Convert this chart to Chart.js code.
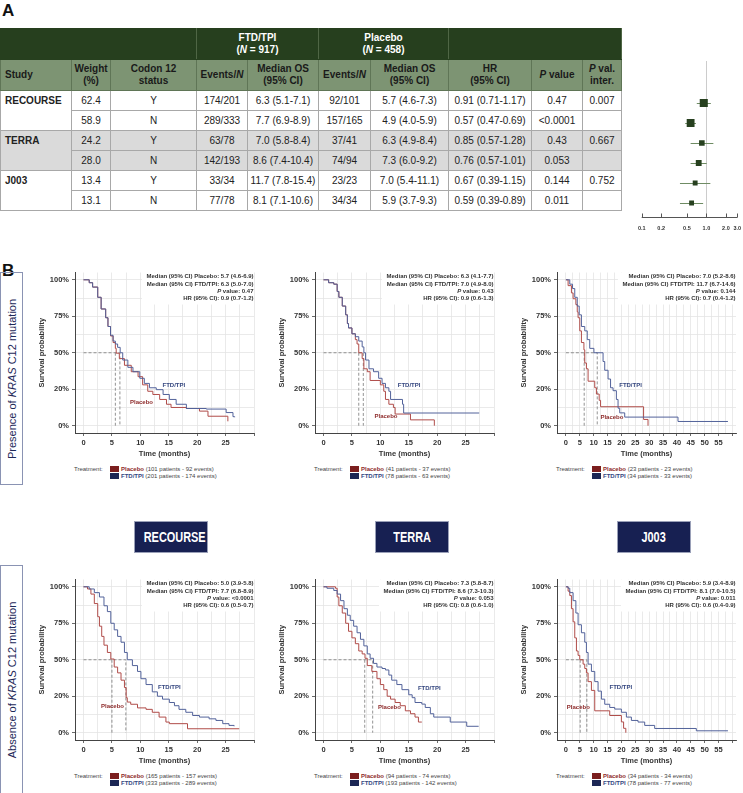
<!DOCTYPE html>
<html>
<head>
<meta charset="utf-8">
<script src="https://cdn.jsdelivr.net/npm/chart.js@4.4.1/dist/chart.umd.min.js"></script>
<style>
  body { margin:0; width:743px; height:793px; position:relative; overflow:hidden; background:#fff;
         font-family:"Liberation Sans", Arial, sans-serif; color:#222; }
  .abs { position:absolute; }
  .letter { font-weight:bold; font-size:17px; line-height:17px; color:#111; }
  #tbl { position:absolute; left:0; top:28px; border-collapse:collapse; table-layout:fixed; font-size:10px; }
  #tbl td { border:1px solid #a8a8a8; text-align:center; padding:0; height:19px; color:#222; white-space:nowrap; }
  #tbl tr.h1 td { background:#263f1e; color:#fff; font-weight:bold; height:30px; border-color:#263f1e; border-right-color:#4f6645; line-height:12px; }
  #tbl tr.h2 td { background:#7d9473; color:#1a1a1a; font-weight:bold; height:30px; border-color:#5f7556; line-height:12px; }
  #tbl td.study { text-align:left; font-weight:bold; vertical-align:top; padding:4px 0 0 4px; }
  #tbl tr.grey td { background:#dadada; }
  .side { border:1px solid #8a93b3; box-sizing:border-box; }
  .side span { position:absolute; left:50%; top:50%; transform:translate(-50%,-50%) rotate(-90deg);
               white-space:nowrap; font-size:11px; color:#1d2858; }
  .studybox { background:#172052; border:1px solid #9aa0b8; box-sizing:border-box; color:#fff; font-weight:bold;
              font-size:14px; text-align:center; line-height:30px; }
  .studybox span { display:inline-block; transform:scaleX(0.78); }
  .leg { font-size:6px; color:#444; white-space:nowrap; line-height:7px; }
  .sw { display:inline-block; width:9px; height:6px; vertical-align:-1px; margin-right:2px; }
</style>
</head>
<body>
<div class="abs letter" style="left:2px;top:2px">A</div>
<table id="tbl"></table>
<canvas id="forest" class="abs" style="left:630px;top:50px"></canvas>

<div class="abs letter" style="left:2px;top:262px">B</div>
<div class="abs side" style="left:0;top:272px;width:23px;height:213px"><span>Presence of <i>KRAS</i> C12 mutation</span></div>
<div class="abs side" style="left:0;top:565px;width:23px;height:230px"><span>Absence of <i>KRAS</i> C12 mutation</span></div>

<script>
// ---------- Part A: table + forest plot ----------
const studies = ['RECOURSE', 'TERRA', 'J003'];
const weights = [62.4, 58.9, 24.2, 28.0, 13.4, 13.1];
const codon12 = ['Y', 'N', 'Y', 'N', 'Y', 'N'];
const ftdEvents = ['174/201', '289/333', '63/78', '142/193', '33/34', '77/78'];
const ftdMedianOS = ['6.3 (5.1-7.1)', '7.7 (6.9-8.9)', '7.0 (5.8-8.4)', '8.6 (7.4-10.4)', '11.7 (7.8-15.4)', '8.1 (7.1-10.6)'];
const pboEvents = ['92/101', '157/165', '37/41', '74/94', '23/23', '34/34'];
const pboMedianOS = ['5.7 (4.6-7.3)', '4.9 (4.0-5.9)', '6.3 (4.9-8.4)', '7.3 (6.0-9.2)', '7.0 (5.4-11.1)', '5.9 (3.7-9.3)'];
const hr = [0.91, 0.57, 0.85, 0.76, 0.67, 0.59];
const hrLow = [0.71, 0.47, 0.57, 0.57, 0.39, 0.39];
const hrHigh = [1.17, 0.69, 1.28, 1.01, 1.15, 0.89];
const pValues = ['0.47', '<0.0001', '0.43', '0.053', '0.144', '0.011'];
const pInteraction = ['0.007', '0.667', '0.752'];
const forestTicks = [0.1, 0.2, 0.5, 1, 2, 3];
const forestTickLabels = ['0.1', '0.2', '0.5', '1.0', '2.0', '3.0'];

// ---------- Part B: Kaplan-Meier curves (time in months, survival) ----------
const recourseC12PboT = [0, 1.0, 1.6, 2.5, 3.1, 3.9, 4.3, 4.75, 5.2, 5.6, 5.75, 6.3, 7.2, 8.4, 9.6, 10.4, 11.3, 12.2, 13.4, 14.6, 15.4, 18.1, 20.4, 21.9, 25.4];
const recourseC12PboS = [1, 0.98, 0.95, 0.88, 0.80, 0.74, 0.68, 0.615, 0.57, 0.53, 0.497, 0.46, 0.414, 0.37, 0.336, 0.28, 0.236, 0.214, 0.18, 0.147, 0.125, 0.118, 0.10, 0.065, 0.03];
const recourseC12FtdT = [0, 1.0, 1.6, 2.5, 3.1, 3.9, 4.3, 4.75, 5.2, 5.6, 6.0, 6.45, 6.9, 7.8, 8.7, 9.9, 10.7, 11.6, 12.8, 14.0, 15.1, 16.3, 18.1, 21.6, 25.1, 26.3, 26.6];
const recourseC12FtdS = [1, 0.98, 0.95, 0.88, 0.80, 0.74, 0.68, 0.62, 0.58, 0.56, 0.537, 0.50, 0.45, 0.40, 0.37, 0.325, 0.29, 0.26, 0.247, 0.214, 0.18, 0.147, 0.118, 0.114, 0.09, 0.062, 0.058];

const terraC12PboT = [0, 0.9, 1.8, 2.4, 2.7, 3.3, 3.9, 4.2, 4.4, 5.0, 5.6, 5.9, 6.2, 6.8, 7.1, 7.7, 8.2, 10.0, 10.6, 10.9, 11.5, 12.3, 12.6, 15.3, 19.5];
const terraC12PboS = [1, 0.98, 0.97, 0.92, 0.88, 0.82, 0.76, 0.70, 0.67, 0.63, 0.59, 0.56, 0.50, 0.46, 0.39, 0.37, 0.31, 0.28, 0.236, 0.18, 0.147, 0.125, 0.08, 0.04, 0];
const terraC12FtdT = [0, 0.9, 1.8, 2.4, 2.7, 3.3, 3.9, 4.2, 4.4, 5.0, 5.6, 6.2, 6.8, 7.1, 7.4, 8.0, 8.8, 9.7, 10.3, 10.9, 11.5, 11.8, 13.9, 14.1, 27.4];
const terraC12FtdS = [1, 0.98, 0.97, 0.92, 0.88, 0.82, 0.76, 0.70, 0.67, 0.63, 0.61, 0.58, 0.54, 0.50, 0.45, 0.39, 0.37, 0.325, 0.29, 0.26, 0.236, 0.18, 0.147, 0.087, 0.087];

const j003C12PboT = [0, 0.8, 2.0, 2.6, 3.6, 4.1, 4.4, 5.0, 5.6, 6.5, 6.8, 7.4, 8.0, 10.4, 11.0, 12.0, 12.5, 28.0, 29.6];
const j003C12PboS = [1, 0.96, 0.91, 0.87, 0.83, 0.78, 0.74, 0.65, 0.57, 0.52, 0.43, 0.39, 0.305, 0.26, 0.217, 0.174, 0.13, 0.043, 0];
const j003C12FtdT = [0, 1.4, 2.4, 3.2, 4.1, 4.8, 5.6, 6.8, 7.7, 8.6, 10.1, 13.4, 14.0, 15.2, 16.1, 17.0, 18.2, 18.8, 19.4, 21.2, 40.4, 58.4];
const j003C12FtdS = [1, 0.97, 0.94, 0.88, 0.82, 0.76, 0.68, 0.65, 0.59, 0.53, 0.50, 0.44, 0.38, 0.32, 0.26, 0.24, 0.18, 0.12, 0.088, 0.059, 0.029, 0.029];

const recourseNoPboT = [0, 0.7, 1.3, 1.9, 2.5, 2.8, 3.2, 3.6, 4.2, 4.8, 5.4, 6.0, 6.6, 7.2, 7.5, 7.7, 8.3, 9.5, 11.0, 12.1, 13.3, 14.5, 15.1, 18.3, 27.4];
const recourseNoPboS = [1, 0.985, 0.95, 0.885, 0.795, 0.73, 0.66, 0.60, 0.55, 0.505, 0.45, 0.41, 0.36, 0.31, 0.24, 0.21, 0.195, 0.17, 0.16, 0.14, 0.107, 0.073, 0.062, 0.027, 0.027];
const recourseNoFtdT = [0, 1.0, 1.9, 2.8, 3.6, 4.2, 4.8, 5.4, 6.0, 6.6, 7.2, 7.7, 8.6, 9.5, 10.1, 11.0, 12.1, 13.0, 13.9, 15.1, 16.0, 16.8, 18.0, 19.2, 20.4, 22.1, 23.3, 24.5, 25.6, 26.5];
const recourseNoFtdS = [1, 0.985, 0.96, 0.93, 0.87, 0.83, 0.75, 0.705, 0.66, 0.62, 0.55, 0.50, 0.46, 0.42, 0.37, 0.33, 0.28, 0.25, 0.23, 0.207, 0.185, 0.16, 0.14, 0.118, 0.107, 0.095, 0.084, 0.062, 0.05, 0.044];

const terraNoPboT = [0, 2.1, 2.4, 2.7, 3.3, 3.9, 4.4, 5.0, 5.6, 6.2, 6.8, 7.3, 7.7, 8.5, 9.4, 10.0, 10.6, 11.2, 11.8, 12.6, 13.5, 14.4, 15.3, 16.1, 16.7, 17.3];
const terraNoPboS = [1, 0.99, 0.93, 0.87, 0.82, 0.75, 0.695, 0.65, 0.61, 0.56, 0.54, 0.51, 0.46, 0.42, 0.37, 0.33, 0.295, 0.25, 0.23, 0.207, 0.185, 0.15, 0.13, 0.107, 0.073, 0.073];
const terraNoFtdT = [0, 0.6, 1.8, 2.4, 3.0, 3.6, 4.2, 4.7, 5.3, 5.9, 6.5, 7.1, 7.7, 8.2, 8.8, 9.4, 10.3, 10.9, 11.5, 12.0, 12.9, 13.8, 15.0, 15.6, 16.1, 17.3, 17.9, 18.8, 19.4, 22.3, 25.2, 27.3];
const terraNoFtdS = [1, 0.99, 0.975, 0.95, 0.905, 0.85, 0.805, 0.77, 0.73, 0.685, 0.64, 0.595, 0.54, 0.51, 0.475, 0.45, 0.44, 0.43, 0.395, 0.36, 0.33, 0.295, 0.26, 0.24, 0.207, 0.196, 0.173, 0.13, 0.107, 0.073, 0.044, 0.044];

const j003NoPboT = [0, 0.8, 1.4, 2.0, 2.6, 3.2, 3.8, 4.4, 5.0, 6.2, 6.8, 7.4, 8.0, 9.2, 10.4, 15.8, 20.0, 20.8, 21.6];
const j003NoPboS = [1, 0.97, 0.94, 0.85, 0.76, 0.65, 0.56, 0.53, 0.50, 0.47, 0.44, 0.41, 0.35, 0.29, 0.15, 0.118, 0.074, 0.03, 0];
const j003NoFtdT = [0, 0.8, 1.4, 2.6, 3.6, 4.4, 5.6, 6.8, 7.4, 8.0, 9.2, 10.4, 11.6, 12.8, 14.0, 15.8, 17.6, 20.0, 21.8, 23.6, 26.0, 28.4, 32.0, 47.0, 58.4];
const j003NoFtdS = [1, 0.99, 0.96, 0.905, 0.82, 0.74, 0.685, 0.62, 0.55, 0.47, 0.42, 0.35, 0.285, 0.23, 0.195, 0.173, 0.162, 0.14, 0.107, 0.084, 0.073, 0.05, 0.029, 0.013, 0.013];

// median survival drawn as dashed guides [placebo, FTD/TPI]
const medians = [[5.6, 6.4], [6.2, 7.0], [6.6, 11.3], [5.0, 7.45], [7.25, 8.65], [5.15, 7.55]];
const statLines = [
  ['Median (95% CI) Placebo: 5.7 (4.6-6.9)', 'Median (95% CI) FTD/TPI: 6.3 (5.0-7.0)', 'P value: 0.47', 'HR (95% CI): 0.9 (0.7-1.2)'],
  ['Median (95% CI) Placebo: 6.3 (4.1-7.7)', 'Median (95% CI) FTD/TPI: 7.0 (4.9-8.0)', 'P value: 0.43', 'HR (95% CI): 0.9 (0.6-1.3)'],
  ['Median (95% CI) Placebo: 7.0 (5.2-8.6)', 'Median (95% CI) FTD/TPI: 11.7 (6.7-14.6)', 'P value: 0.144', 'HR (95% CI): 0.7 (0.4-1.2)'],
  ['Median (95% CI) Placebo: 5.0 (3.9-5.8)', 'Median (95% CI) FTD/TPI: 7.7 (6.8-8.9)', 'P value: <0.0001', 'HR (95% CI): 0.6 (0.5-0.7)'],
  ['Median (95% CI) Placebo: 7.3 (5.8-8.7)', 'Median (95% CI) FTD/TPI: 8.6 (7.3-10.3)', 'P value: 0.053', 'HR (95% CI): 0.8 (0.6-1.0)'],
  ['Median (95% CI) Placebo: 5.9 (3.4-8.9)', 'Median (95% CI) FTD/TPI: 8.1 (7.0-10.5)', 'P value: 0.011', 'HR (95% CI): 0.6 (0.4-0.9)']
];
const legendPbo = ['(101 patients - 92 events)', '(41 patients - 37 events)', '(23 patients - 23 events)',
                   '(165 patients - 157 events)', '(94 patients - 74 events)', '(34 patients - 34 events)'];
const legendFtd = ['(201 patients - 174 events)', '(78 patients - 63 events)', '(34 patients - 33 events)',
                   '(333 patients - 289 events)', '(193 patients - 142 events)', '(78 patients - 77 events)'];
const yTickValues = [0, 0.25, 0.5, 0.75, 1];
const yTickLabels = ['0%', '20%', '50%', '75%', '100%'];

const FONT = '"Liberation Sans", Arial, sans-serif';
const PBO_LINE = '#b04c49', FTD_LINE = '#52629a', PBO_TXT = '#8e2b2b', FTD_TXT = '#34467f';
const PBO_BOX = '#7b1e1e', FTD_BOX = '#1c2755';
Chart.defaults.font.family = FONT;
Chart.defaults.animation = false;

// ---- table ----
const colW = [71, 39, 86, 51, 71, 52, 78, 83, 51, 39];
let html = '<colgroup>' + colW.map(w => '<col style="width:' + w + 'px">').join('') + '</colgroup>';
html += '<tr class="h1"><td colspan="3"></td><td colspan="2">FTD/TPI<br>(<i>N</i> = 917)</td>' +
        '<td colspan="2">Placebo<br>(<i>N</i> = 458)</td><td colspan="3"></td></tr>';
html += '<tr class="h2"><td style="text-align:left;padding-left:4px">Study</td><td>Weight<br>(%)</td><td>Codon 12<br>status</td>' +
        '<td>Events/<i>N</i></td><td>Median OS<br>(95% CI)</td><td>Events/<i>N</i></td><td>Median OS<br>(95% CI)</td>' +
        '<td>HR<br>(95% CI)</td><td><i>P</i> value</td><td><i>P</i> val.<br>inter.</td></tr>';
for (let i = 0; i < 6; i++) {
  const s = Math.floor(i / 2);
  html += '<tr' + (s === 1 ? ' class="grey"' : '') + '>';
  if (i % 2 === 0) html += '<td class="study" rowspan="2">' + studies[s] + '</td>';
  html += '<td>' + weights[i].toFixed(1) + '</td><td>' + codon12[i] + '</td><td>' + ftdEvents[i] + '</td><td>' +
          ftdMedianOS[i] + '</td><td>' + pboEvents[i] + '</td><td>' + pboMedianOS[i] + '</td><td>' +
          hr[i].toFixed(2) + ' (' + hrLow[i].toFixed(2) + '-' + hrHigh[i].toFixed(2) + ')</td><td>' +
          pValues[i] + '</td><td>' + (i % 2 === 0 ? pInteraction[s] : '') + '</td></tr>';
}
document.getElementById('tbl').innerHTML = html;

// ---- forest plot ----
const forestDeco = {
  id: 'forestDeco',
  beforeDatasetsDraw(chart) {
    const {ctx, chartArea: a, scales: {x, y}} = chart;
    ctx.save();
    ctx.lineWidth = 1;
    const x1 = Math.round(x.getPixelForValue(1)) + 0.5;
    ctx.strokeStyle = '#cccccc';
    ctx.beginPath(); ctx.moveTo(x1, a.top); ctx.lineTo(x1, a.bottom); ctx.stroke();
    ctx.strokeStyle = '#6f8c64';
    hr.forEach((v, i) => {
      const yy = Math.round(y.getPixelForValue(i + 2.1)) + 0.5;
      ctx.beginPath(); ctx.moveTo(x.getPixelForValue(hrLow[i]), yy); ctx.lineTo(x.getPixelForValue(hrHigh[i]), yy); ctx.stroke();
    });
    const yb = Math.round(a.bottom) + 0.5;
    ctx.strokeStyle = '#555';
    ctx.beginPath(); ctx.moveTo(a.left, yb); ctx.lineTo(a.right, yb);
    forestTicks.forEach(t => { const px = Math.round(x.getPixelForValue(t)) + 0.5; ctx.moveTo(px, yb); ctx.lineTo(px, yb - 4); });
    ctx.stroke();
    ctx.fillStyle = '#333';
    ctx.font = 'bold 5.5px ' + FONT;
    ctx.textAlign = 'center'; ctx.textBaseline = 'middle';
    forestTicks.forEach((t, i) => ctx.fillText(forestTickLabels[i], x.getPixelForValue(t), yb + 11));
    ctx.restore();
  }
};
const fc = document.getElementById('forest');
fc.width = 113; fc.height = 190;
new Chart(fc, {
  type: 'scatter',
  data: { datasets: [{
    data: hr.map((v, i) => ({x: v, y: i + 2.1})),
    pointStyle: 'rect',
    pointRadius: weights.map(w => (4 + w * 0.065) / 1.414),
    backgroundColor: '#27401f', borderWidth: 0
  }]},
  options: {
    responsive: false,
    layout: { padding: {left: 11.7, right: 5.3, top: 11, bottom: 23} },
    plugins: { legend: {display: false}, tooltip: {enabled: false} },
    scales: {
      x: { type: 'logarithmic', min: 0.1, max: 3, display: false },
      y: { min: 0, max: 7.8, reverse: true, display: false }
    }
  },
  plugins: [forestDeco]
});

// ---- KM panels ----
const kmText = {
  id: 'kmText',
  beforeDatasetsDraw(chart, args, o) {
    const {ctx, chartArea: a} = chart;
    ctx.save();
    ctx.font = 'bold 6px ' + FONT;
    const w = Math.max(...o.stats.map(s => ctx.measureText(s).width)) + 5;
    ctx.fillStyle = '#fff';
    ctx.fillRect(a.right - w, a.top, w, 32);
    ctx.restore();
  },
  afterDatasetsDraw(chart, args, o) {
    const {ctx, chartArea: a, scales: {x, y}} = chart;
    ctx.save();
    ctx.textBaseline = 'middle';
    const f = 'bold 6px ' + FONT, fi = 'italic bold 6px ' + FONT;
    ctx.fillStyle = '#333';
    ctx.textAlign = 'right';
    o.stats.forEach((s, i) => {
      const yy = a.top + 4 + i * 7.4, xr = a.right - 0.5;
      ctx.font = f;
      if (s.startsWith('P ')) {
        const rest = s.slice(1);
        ctx.fillText(rest, xr, yy);
        const rw = ctx.measureText(rest).width;
        ctx.font = fi;
        ctx.fillText('P', xr - rw, yy);
      } else {
        ctx.fillText(s, xr, yy);
      }
    });
    ctx.textAlign = 'center';
    ctx.font = f;
    ctx.fillStyle = FTD_TXT;
    ctx.fillText('FTD/TPI', x.getPixelForValue(o.ftdLab[0]), y.getPixelForValue(o.ftdLab[1]));
    ctx.fillStyle = PBO_TXT;
    ctx.fillText('Placebo', x.getPixelForValue(o.pboLab[0]), y.getPixelForValue(o.pboLab[1]));
    ctx.restore();
  }
};

function pts(t, s) { return t.map((v, i) => ({x: v, y: s[i]})); }

const plotLeft = [75, 315, 557], plotTop = [268, 575], PW = 179, PH = 165;
const curves = [
  [recourseC12PboT, recourseC12PboS, recourseC12FtdT, recourseC12FtdS],
  [terraC12PboT, terraC12PboS, terraC12FtdT, terraC12FtdS],
  [j003C12PboT, j003C12PboS, j003C12FtdT, j003C12FtdS],
  [recourseNoPboT, recourseNoPboS, recourseNoFtdT, recourseNoFtdS],
  [terraNoPboT, terraNoPboS, terraNoFtdT, terraNoFtdS],
  [j003NoPboT, j003NoPboS, j003NoFtdT, j003NoFtdS]
];
// curve label anchors (months, survival)
const labelAt = [
  {ftd: [15.9, 0.278], pbo: [10.2, 0.158]}, {ftd: [15.05, 0.276], pbo: [11.0, 0.062]}, {ftd: [23.3, 0.276], pbo: [16.6, 0.058]},
  {ftd: [15.1, 0.311], pbo: [5.1, 0.178]}, {ftd: [18.6, 0.307], pbo: [11.6, 0.173]}, {ftd: [19.8, 0.311], pbo: [4.5, 0.173]}
];

curves.forEach((c, k) => {
  const col = k % 3, row = Math.floor(k / 3);
  const wide = col === 2;
  const PL = plotLeft[col], PT = plotTop[row];
  const cv = document.createElement('canvas');
  cv.className = 'abs';
  cv.style.left = (PL - 45) + 'px'; cv.style.top = (PT - 3) + 'px';
  cv.width = 228; cv.height = 198;
  document.body.appendChild(cv);

  const xMin = wide ? -3.2 : -1.5, xMax = wide ? 61.3 : 30;
  const lastTick = wide ? 60 : 30, lastLabel = wide ? 55 : 25;
  const xTicks = [];
  for (let v = 0; v <= lastTick; v += 2.5) xTicks.push(v);
  const m = medians[k];
  const mHi = Math.max(m[0], m[1]), mLo = Math.min(m[0], m[1]);

  new Chart(cv, {
    type: 'line',
    data: { datasets: [
      { data: pts(c[2], c[3]), stepped: 'before', borderColor: FTD_LINE, borderWidth: 1, pointRadius: 0 },
      { data: pts(c[0], c[1]), stepped: 'before', borderColor: PBO_LINE, borderWidth: 1, pointRadius: 0 },
      { data: [{x: 0, y: 0.5}, {x: mHi, y: 0.5}, {x: mHi, y: 0}], borderColor: '#777', borderWidth: 0.8, borderDash: [3, 2], pointRadius: 0 },
      { data: [{x: mLo, y: 0.5}, {x: mLo, y: 0}], borderColor: '#777', borderWidth: 0.8, borderDash: [3, 2], pointRadius: 0 }
    ]},
    options: {
      responsive: false,
      layout: { padding: {left: 0, top: 3, right: 4, bottom: 0} },
      plugins: {
        legend: {display: false}, tooltip: {enabled: false},
        kmText: { stats: statLines[k], ftdLab: labelAt[k].ftd, pboLab: labelAt[k].pbo }
      },
      scales: {
        x: {
          type: 'linear', min: xMin, max: xMax,
          afterBuildTicks: s => { s.ticks = xTicks.map(v => ({value: v})); },
          afterFit: s => { s.height = 30; },
          ticks: { autoSkip: false, maxRotation: 0, padding: 2, color: '#333', font: {size: 7.5, weight: 'bold'},
                   callback: v => (v % 5 === 0 && v <= lastLabel) ? String(v) : '' },
          grid: { color: '#e4e4e4', lineWidth: 0.8, tickLength: 3,
                  tickColor: ctx => (ctx.tick && ctx.tick.value % 5 === 0) ? '#444' : 'rgba(0,0,0,0)' },
          border: { color: '#444', width: 1 },
          title: { display: true, text: 'Time (months)', color: '#333', font: {size: 7.5, weight: 'bold'}, padding: {top: 0, bottom: 5} }
        },
        y: {
          type: 'linear', min: -0.05, max: 1.05,
          afterBuildTicks: s => { s.ticks = [0, 0.125, 0.25, 0.375, 0.5, 0.625, 0.75, 0.875, 1].map(v => ({value: v})); },
          afterFit: s => { s.width = 45; },
          ticks: { padding: 3, color: '#333', font: {size: 7.5, weight: 'bold'},
                   callback: v => { const i = yTickValues.indexOf(v); return i < 0 ? '' : yTickLabels[i]; } },
          grid: { color: '#e4e4e4', lineWidth: 0.8, tickLength: 3,
                  tickColor: ctx => (ctx.tick && yTickValues.includes(ctx.tick.value)) ? '#444' : 'rgba(0,0,0,0)' },
          border: { color: '#444', width: 1 },
          title: { display: true, text: 'Survival probability', color: '#333', font: {size: 7.5, weight: 'bold'}, padding: {top: 7, bottom: 0} }
        }
      }
    },
    plugins: [kmText]
  });

  // legend under each panel
  const PB = PT + PH;
  const lg = document.createElement('div');
  lg.innerHTML =
    '<div class="abs leg" style="left:' + (PL - 1) + 'px;top:' + (PB + 32.5) + 'px">Treatment:</div>' +
    '<div class="abs leg" style="left:' + (PL + 35) + 'px;top:' + (PB + 32.5) + 'px"><span class="sw" style="background:' + PBO_BOX +
    '"></span><b style="color:' + PBO_TXT + '">Placebo</b> ' + legendPbo[k] + '</div>' +
    '<div class="abs leg" style="left:' + (PL + 35) + 'px;top:' + (PB + 39.5) + 'px"><span class="sw" style="background:' + FTD_BOX +
    '"></span><b style="color:' + FTD_TXT + '">FTD/TPI</b> ' + legendFtd[k] + '</div>';
  document.body.appendChild(lg);
});

// study name boxes between the two rows
const boxLeft = [134, 375, 617];
studies.forEach((s, i) => {
  const d = document.createElement('div');
  d.className = 'abs studybox';
  d.style.cssText = 'left:' + boxLeft[i] + 'px;top:521px;width:74px;height:32px';
  d.innerHTML = '<span>' + s + '</span>';
  document.body.appendChild(d);
});
</script>
</body>
</html>
